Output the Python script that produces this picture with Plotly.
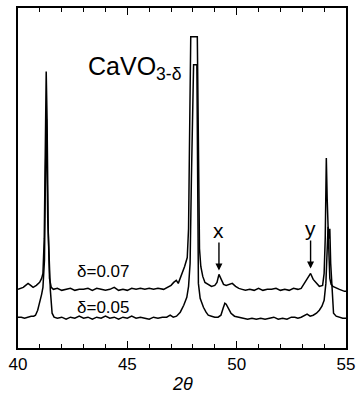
import plotly.graph_objects as go

# 2-theta (deg) and intensity (arb. units)
two_theta_007 = [40.0, 40.12, 40.24, 40.35, 40.46, 40.58, 40.69, 40.84, 40.99, 41.08, 41.14, 41.2, 41.25, 41.29,
                 41.33, 41.38, 41.44, 41.52, 41.62, 41.8, 42.0, 42.2, 42.4, 42.6, 42.8, 43.0, 43.2, 43.4,
                 43.6, 43.8, 44.0, 44.2, 44.4, 44.6, 44.8, 45.0, 45.2, 45.4, 45.6, 45.8, 46.0, 46.2,
                 46.4, 46.66, 46.85, 47.0, 47.12, 47.24, 47.33, 47.42, 47.5, 47.62, 47.74, 47.8, 47.84,
                 47.88, 47.9, 48.2, 48.22, 48.26, 48.3, 48.36, 48.45, 48.55, 48.7, 48.85, 49.0, 49.1, 49.19,
                 49.28, 49.4, 49.52, 49.65, 49.8, 49.95, 50.1, 50.25, 50.4, 50.6, 50.8, 51.0, 51.2, 51.4,
                 51.6, 51.8, 52.0, 52.2, 52.4, 52.6, 52.8, 52.95, 53.04, 53.15, 53.26, 53.38, 53.5, 53.64,
                 53.78, 53.93, 54.0, 54.05, 54.1, 54.14, 54.18, 54.22, 54.26, 54.32, 54.4, 54.48, 54.7,
                 54.93, 55.0]
intensity_007 = [59, 60, 61, 63, 65, 63, 61, 63, 66, 70, 75, 110, 220, 278,
                 230, 120, 70, 61, 59, 60, 58, 59, 60, 58, 59, 59, 60, 58,
                 60, 59, 58, 59, 61, 58, 59, 58, 60, 59, 60, 59, 60, 59,
                 60, 59, 61, 63, 66, 68, 65, 70, 75, 82, 91, 120, 200,
                 290, 313, 313, 250, 150, 100, 82, 72, 66, 64, 62, 63, 66, 74,
                 70, 64, 63, 64, 65, 62, 60, 59, 58, 59, 58, 60, 58, 59,
                 59, 60, 58, 59, 58, 60, 59, 60, 63, 66, 70, 75, 69, 65,
                 62, 63, 75, 110, 191, 150, 105, 95, 70, 64, 62, 61, 59,
                 57, 57]

two_theta_005 = [40.0, 40.15, 40.3, 40.45, 40.6, 40.72, 40.8, 40.9, 40.99, 41.08, 41.14, 41.21, 41.26, 41.3,
                 41.36, 41.42, 41.48, 41.56, 41.65, 41.8, 42.0, 42.2, 42.4, 42.6, 42.8, 43.0, 43.2, 43.4,
                 43.6, 43.8, 44.0, 44.2, 44.4, 44.6, 44.8, 45.0, 45.2, 45.4, 45.6, 45.8, 46.0, 46.2,
                 46.4, 46.6, 46.8, 46.96, 47.1, 47.25, 47.42, 47.58, 47.72, 47.8, 47.87, 47.93, 47.98,
                 48.03, 48.18, 48.21, 48.25, 48.33, 48.4, 48.48, 48.6, 48.7, 48.85, 49.0, 49.15, 49.28,
                 49.38, 49.46, 49.52, 49.62, 49.74, 49.9, 50.1, 50.3, 50.5, 50.7, 50.9, 51.1, 51.3,
                 51.5, 51.7, 51.9, 52.1, 52.3, 52.5, 52.66, 52.8, 52.95, 53.1, 53.22, 53.36, 53.5,
                 53.65, 53.78, 53.9, 54.0, 54.08, 54.14, 54.18, 54.22, 54.26, 54.3, 54.36, 54.43,
                 54.55, 54.7, 54.85, 55.0]
intensity_005 = [31, 31, 30, 31, 32, 32, 33, 38, 45, 54, 61, 88, 180, 230,
                 130, 80, 58, 35, 31, 30, 31, 29, 31, 30, 32, 30, 31, 29,
                 31, 30, 32, 30, 31, 29, 31, 30, 32, 30, 31, 30, 29, 31,
                 30, 31, 31, 33, 31, 32, 36, 43, 51, 62, 85, 170, 250,
                 285, 285, 200, 65, 50, 45, 41, 36, 33, 32, 31, 31, 33,
                 40, 45, 44, 40, 35, 32, 31, 30, 29, 30, 29, 30, 29,
                 30, 31, 29, 30, 29, 31, 31, 30, 31, 33, 34, 32, 33,
                 35, 38, 42, 48, 65, 100, 122, 110, 120, 85, 55, 35,
                 32, 31, 30, 30]

series_labels = ["δ=0.07", "δ=0.05"]
x_ticks = [40, 45, 50, 55]
compound = "CaVO<sub>3-δ</sub>"
marker_labels = ["x", "y"]
marker_pos = [49.19, 53.38]
marker_tip = [78, 80]

FONT = "Liberation Sans, Arial, sans-serif"

fig = go.Figure()
fig.add_trace(go.Scatter(x=two_theta_007, y=intensity_007, mode="lines",
                         line=dict(color="black", width=1.5), showlegend=False))
fig.add_trace(go.Scatter(x=two_theta_005, y=intensity_005, mode="lines",
                         line=dict(color="black", width=1.5), showlegend=False))

annotations = [
    dict(x=43.1, y=282, xref="x", yref="y", text=compound, showarrow=False,
         xanchor="left", yanchor="middle", font=dict(family=FONT, size=25, color="black")),
    dict(x=42.62, y=77, xref="x", yref="y", text=series_labels[0], showarrow=False,
         xanchor="left", yanchor="middle", font=dict(family=FONT, size=17, color="black")),
    dict(x=42.62, y=41, xref="x", yref="y", text=series_labels[1], showarrow=False,
         xanchor="left", yanchor="middle", font=dict(family=FONT, size=17, color="black")),
]
for lab, xp, tip in zip(marker_labels, marker_pos, marker_tip):
    annotations.append(dict(x=xp, y=tip, xref="x", yref="y", text=lab, showarrow=True,
                            ax=0, ay=-40, arrowhead=2, arrowsize=1, arrowwidth=1.4,
                            arrowcolor="black", standoff=0, borderpad=0,
                            font=dict(family=FONT, size=21, color="black")))
annotations.append(dict(x=0.5, y=-0.105, xref="paper", yref="paper", text="<i>2θ</i>",
                        showarrow=False, xanchor="center", yanchor="middle", borderpad=0,
                        font=dict(family=FONT, size=18, color="black")))

fig.update_layout(
    width=361, height=396,
    margin=dict(l=18, r=9, t=6, b=48),
    paper_bgcolor="white", plot_bgcolor="white",
    annotations=annotations,
    xaxis=dict(range=[40, 55], tickvals=x_ticks, ticks="inside", ticklen=7, tickwidth=1.4,
               tickcolor="black", showline=True, linecolor="black", linewidth=2,
               mirror="ticks", showgrid=False, zeroline=False, ticklabeloverflow="allow",
               tickfont=dict(family=FONT, size=17, color="black"),
               minor=dict(dtick=1, ticks="inside", ticklen=4, tickwidth=1.2, tickcolor="black",
                          showgrid=False)),
    yaxis=dict(range=[0, 342], showline=True, linecolor="black", linewidth=2, mirror=True,
               showticklabels=False, ticks="", showgrid=False, zeroline=False),
)

fig.write_html("out.html")
